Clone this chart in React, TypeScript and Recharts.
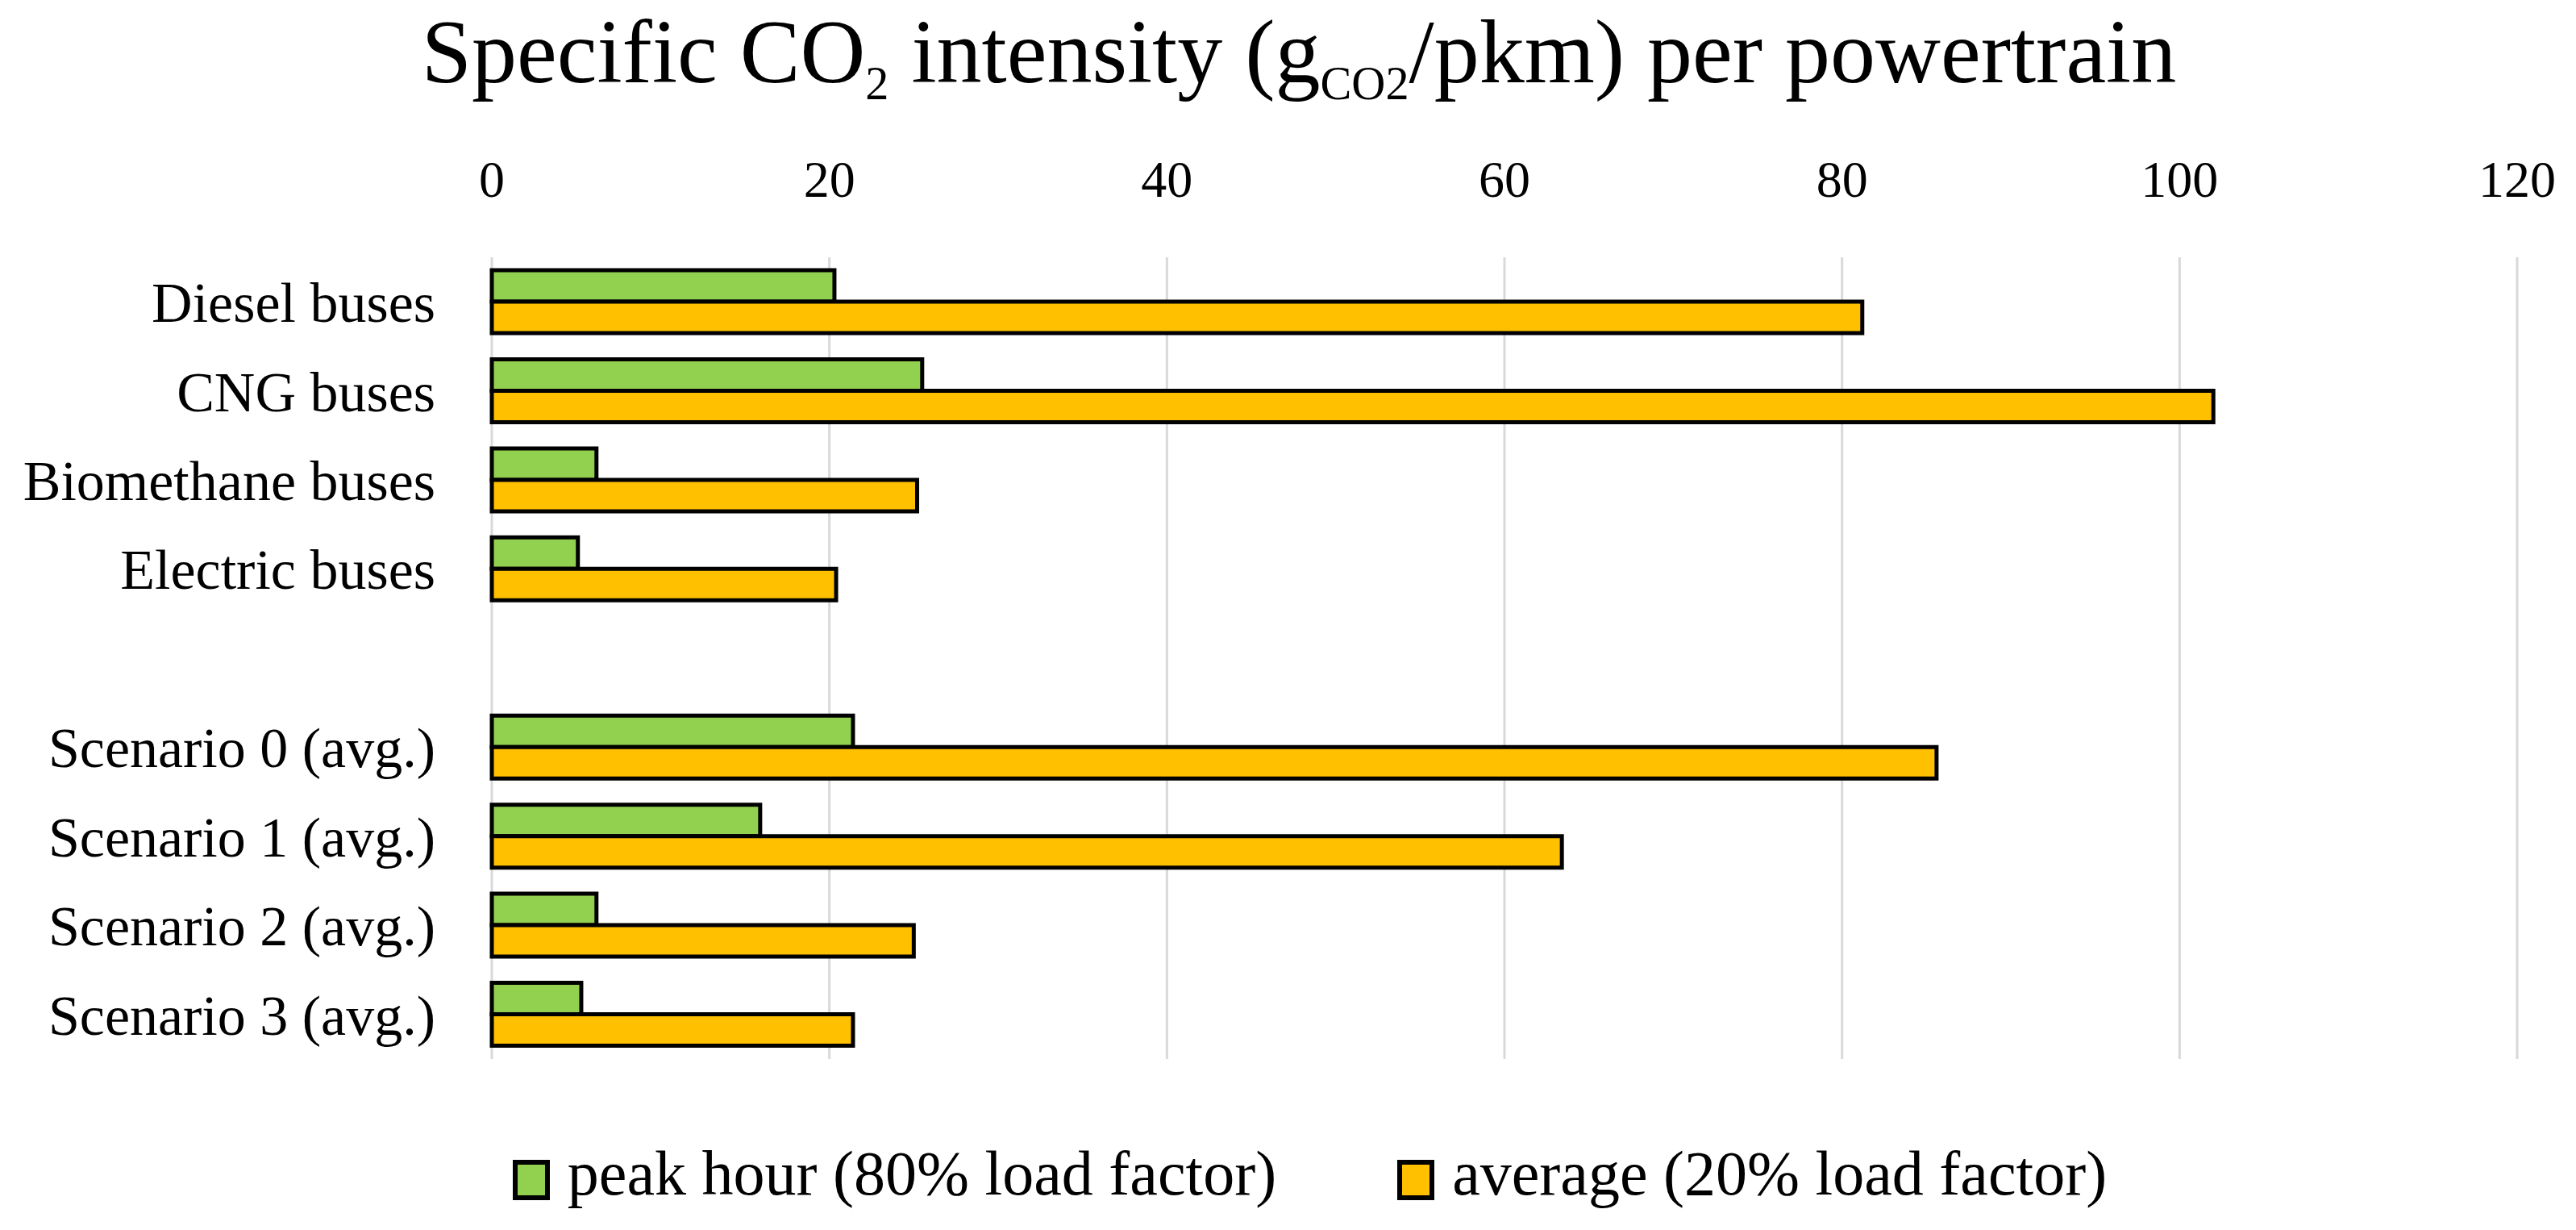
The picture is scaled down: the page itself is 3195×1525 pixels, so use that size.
import { BarChart, Bar, XAxis, YAxis, CartesianGrid } from "recharts";

const categories = [
  "Diesel buses",
  "CNG buses",
  "Biomethane buses",
  "Electric buses",
  "",
  "Scenario 0 (avg.)",
  "Scenario 1 (avg.)",
  "Scenario 2 (avg.)",
  "Scenario 3 (avg.)",
];
const peakHour = [20.3, 25.5, 6.2, 5.1, null, 21.4, 15.9, 6.2, 5.3];
const average = [81.2, 102.0, 25.2, 20.4, null, 85.6, 63.4, 25.0, 21.4];
const xTicks = [0, 20, 40, 60, 80, 100, 120];

const series = [
  { key: "peak", name: "peak hour (80% load factor)", color: "#92D050" },
  { key: "avg", name: "average (20% load factor)", color: "#FFC000" },
];

const data = categories.map((name, i) => ({ name, peak: peakHour[i], avg: average[i] }));

const FONT = "'Palatino Linotype', 'Book Antiqua', Palatino, 'Liberation Serif', serif";
const W = 3179;
const H = 1509;

const subStyle = { fontSize: "0.52em", position: "relative" as const, top: "0.36em" };

export default function App() {
  return (
    <div style={{ position: "relative", width: W, height: H, fontFamily: FONT, background: "#fff" }}>
      <div
        style={{
          position: "absolute",
          left: 1603,
          top: 0,
          transform: "translateX(-50%)",
          fontSize: 112,
          lineHeight: 1,
          whiteSpace: "nowrap",
          color: "#000",
          zIndex: 2,
        }}
      >
        Specific CO<span style={subStyle}>2</span> intensity (g<span style={subStyle}>CO2</span>/pkm) per
        powertrain
      </div>

      <BarChart
        width={W}
        height={H}
        data={data}
        layout="vertical"
        margin={{ top: 150, right: 65, bottom: 204, left: 0 }}
        barSize={39}
        barGap={0}
      >
        <CartesianGrid horizontal={false} stroke="#d9d9d9" strokeWidth={3} />
        <XAxis
          type="number"
          orientation="top"
          domain={[0, 120]}
          ticks={xTicks}
          height={161}
          axisLine={false}
          tickLine={false}
          tickSize={0}
          tickMargin={75}
          tick={{ fill: "#000", fontSize: 64, fontFamily: FONT }}
        />
        <YAxis
          type="category"
          dataKey="name"
          width={602}
          axisLine={false}
          tickLine={false}
          tickSize={0}
          tickMargin={70}
          interval={0}
          tick={{ fill: "#000", fontSize: 70, fontFamily: FONT }}
        />
        {series.map((s) => (
          <Bar
            key={s.key}
            dataKey={s.key}
            name={s.name}
            fill={s.color}
            stroke="#000"
            strokeWidth={5}
            isAnimationActive={false}
          />
        ))}
      </BarChart>

      <div
        style={{
          position: "absolute",
          left: 27,
          top: 1408,
          width: W,
          display: "flex",
          justifyContent: "center",
          alignItems: "flex-start",
          gap: 150,
        }}
      >
        {series.map((s) => (
          <div key={s.key} style={{ display: "flex", alignItems: "flex-start" }}>
            <div
              style={{
                width: 46,
                height: 50,
                marginTop: 22,
                marginRight: 22,
                boxSizing: "border-box",
                border: "6px solid #000",
                background: s.color,
              }}
            />
            <span style={{ fontSize: 78, lineHeight: 1, color: "#000", whiteSpace: "nowrap" }}>
              {s.name}
            </span>
          </div>
        ))}
      </div>
    </div>
  );
}
